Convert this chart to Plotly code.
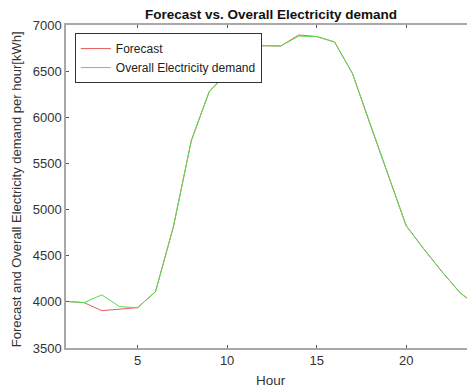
import plotly.graph_objects as go

hours = list(range(1, 25))
overall_demand = [4005, 3992, 4075, 3948, 3937, 4110, 4815, 5747, 6278, 6480,
                  6698, 6776, 6772, 6880, 6875, 6816, 6476, 5918, 5364, 4826,
                  4570, 4327, 4101, 3950]
forecast = [4005, 3992, 3905, 3920, 3937, 4110, 4815, 5747, 6278, 6480,
            6698, 6776, 6772, 6892, 6875, 6816, 6476, 5918, 5364, 4826,
            4570, 4327, 4101, 3950]
x_ticks = [5, 10, 15, 20]
y_ticks = [3500, 4000, 4500, 5000, 5500, 6000, 6500, 7000]

FONT = "Liberation Sans, Arial, Helvetica, sans-serif"
AX = "#a8a8a8"
TXT = "#333333"

fig = go.Figure()
fig.add_trace(go.Scatter(x=hours, y=forecast, mode="lines", name="Forecast",
                         line=dict(color="#e85a5a", width=1)))
fig.add_trace(go.Scatter(x=hours, y=overall_demand, mode="lines",
                         name="Overall Electricity demand",
                         line=dict(color="#4fe04f", width=1)))

fig.update_layout(
    width=467, height=389,
    margin=dict(l=66, r=0, t=25, b=41),
    paper_bgcolor="white", plot_bgcolor="white",
    font=dict(family=FONT, size=13, color=TXT),
    showlegend=True,
    legend=dict(x=0.022, y=0.975, xanchor="left", yanchor="top",
                bgcolor="white", bordercolor="#333333", borderwidth=1,
                font=dict(size=12, color="#222222"),
                tracegroupgap=0, itemwidth=30),
    xaxis=dict(range=[1, 23.4], tickvals=x_ticks, ticks="inside", ticklen=3,
               tickcolor="#555555", showline=True, linecolor=AX, linewidth=1.5,
               mirror="ticks", showgrid=False, zeroline=False,
               tickfont=dict(size=13, color=TXT)),
    yaxis=dict(range=[3500, 7000], tickvals=y_ticks, ticks="inside", ticklen=3,
               tickcolor="#555555", showline=True, linecolor=AX, linewidth=1.5,
               mirror=False, showgrid=False, zeroline=False,
               tickfont=dict(size=13, color=TXT)),
    annotations=[
        dict(text="<b>Forecast vs. Overall Electricity demand</b>",
             xref="paper", yref="paper", x=0.511, y=1.0, yshift=1,
             xanchor="center", yanchor="bottom", showarrow=False,
             font=dict(size=13.5, color="#111111")),
        dict(text="Hour", xref="paper", yref="paper", x=0.511, y=0,
             yshift=-23, xanchor="center", yanchor="top", showarrow=False,
             font=dict(size=13.5, color=TXT)),
        dict(text="Forecast and Overall Electricity demand per hour[kWh]",
             xref="paper", yref="paper", x=0, y=0.49, xshift=-40,
             xanchor="right", yanchor="middle", textangle=-90,
             showarrow=False, font=dict(size=13, color=TXT)),
    ],
)

fig.write_html("out.html")
